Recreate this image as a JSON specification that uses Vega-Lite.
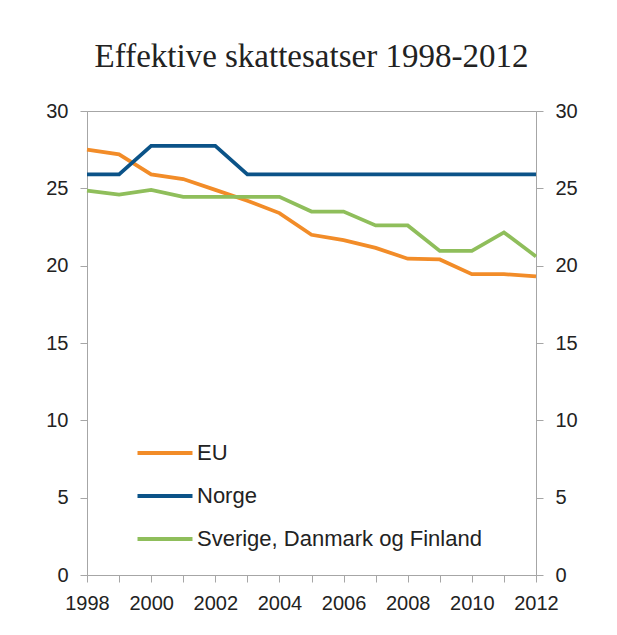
{
  "$schema": "https://vega.github.io/schema/vega-lite/v6.json",
  "width": 449,
  "height": 464,
  "autosize": {"type": "none"},
  "padding": {"left": 87, "top": 111, "right": 81, "bottom": 60},
  "background": "white",
  "title": {
    "text": "Effektive skattesatser 1998-2012",
    "font": "Liberation Serif",
    "fontSize": 33,
    "fontWeight": "normal",
    "color": "#222222",
    "anchor": "middle",
    "offset": 27
  },
  "config": {
    "view": {"stroke": "#A6A6A6", "strokeWidth": 1},
    "axis": {
      "labelFont": "Liberation Sans",
      "labelFontSize": 20,
      "labelColor": "#222222",
      "domainColor": "#A6A6A6",
      "tickColor": "#A6A6A6",
      "tickSize": 7,
      "grid": false,
      "title": null
    },
    "legend": {
      "labelFont": "Liberation Sans",
      "labelFontSize": 22,
      "labelColor": "#222222",
      "labelLimit": 0
    }
  },
  "data": {
    "values": [
      {"year": 1998, "series": "EU", "value": 27.5},
      {"year": 1999, "series": "EU", "value": 27.2},
      {"year": 2000, "series": "EU", "value": 25.9},
      {"year": 2001, "series": "EU", "value": 25.6},
      {"year": 2002, "series": "EU", "value": 24.9},
      {"year": 2003, "series": "EU", "value": 24.2},
      {"year": 2004, "series": "EU", "value": 23.4},
      {"year": 2005, "series": "EU", "value": 22.0},
      {"year": 2006, "series": "EU", "value": 21.65},
      {"year": 2007, "series": "EU", "value": 21.15},
      {"year": 2008, "series": "EU", "value": 20.45},
      {"year": 2009, "series": "EU", "value": 20.4},
      {"year": 2010, "series": "EU", "value": 19.45},
      {"year": 2011, "series": "EU", "value": 19.45},
      {"year": 2012, "series": "EU", "value": 19.3},
      {"year": 1998, "series": "Norge", "value": 25.9},
      {"year": 1999, "series": "Norge", "value": 25.9},
      {"year": 2000, "series": "Norge", "value": 27.75},
      {"year": 2001, "series": "Norge", "value": 27.75},
      {"year": 2002, "series": "Norge", "value": 27.75},
      {"year": 2003, "series": "Norge", "value": 25.9},
      {"year": 2004, "series": "Norge", "value": 25.9},
      {"year": 2005, "series": "Norge", "value": 25.9},
      {"year": 2006, "series": "Norge", "value": 25.9},
      {"year": 2007, "series": "Norge", "value": 25.9},
      {"year": 2008, "series": "Norge", "value": 25.9},
      {"year": 2009, "series": "Norge", "value": 25.9},
      {"year": 2010, "series": "Norge", "value": 25.9},
      {"year": 2011, "series": "Norge", "value": 25.9},
      {"year": 2012, "series": "Norge", "value": 25.9},
      {"year": 1998, "series": "Sverige, Danmark og Finland", "value": 24.85},
      {"year": 1999, "series": "Sverige, Danmark og Finland", "value": 24.6},
      {"year": 2000, "series": "Sverige, Danmark og Finland", "value": 24.9},
      {"year": 2001, "series": "Sverige, Danmark og Finland", "value": 24.45},
      {"year": 2002, "series": "Sverige, Danmark og Finland", "value": 24.45},
      {"year": 2003, "series": "Sverige, Danmark og Finland", "value": 24.45},
      {"year": 2004, "series": "Sverige, Danmark og Finland", "value": 24.45},
      {"year": 2005, "series": "Sverige, Danmark og Finland", "value": 23.5},
      {"year": 2006, "series": "Sverige, Danmark og Finland", "value": 23.5},
      {"year": 2007, "series": "Sverige, Danmark og Finland", "value": 22.6},
      {"year": 2008, "series": "Sverige, Danmark og Finland", "value": 22.6},
      {"year": 2009, "series": "Sverige, Danmark og Finland", "value": 20.95},
      {"year": 2010, "series": "Sverige, Danmark og Finland", "value": 20.95},
      {"year": 2011, "series": "Sverige, Danmark og Finland", "value": 22.15},
      {"year": 2012, "series": "Sverige, Danmark og Finland", "value": 20.6}
    ]
  },
  "encoding": {
    "x": {
      "field": "year",
      "type": "quantitative",
      "scale": {"domain": [1998, 2012], "nice": false, "zero": false},
      "axis": {
        "values": [1998, 1999, 2000, 2001, 2002, 2003, 2004, 2005, 2006, 2007, 2008, 2009, 2010, 2011, 2012],
        "format": "d",
        "labelExpr": "datum.value % 2 == 0 ? datum.label : ''",
        "labelPadding": 11,
        "labelFlush": false,
        "labelOverlap": false
      }
    }
  },
  "layer": [
    {
      "mark": {"type": "line", "strokeWidth": 3.75, "strokeJoin": "miter"},
      "encoding": {
        "y": {
          "field": "value",
          "type": "quantitative",
          "scale": {"domain": [0, 30], "nice": false},
          "axis": {"orient": "left", "values": [0, 5, 10, 15, 20, 25, 30], "labelPadding": 12}
        },
        "color": {
          "field": "series",
          "type": "nominal",
          "scale": {
            "domain": ["EU", "Norge", "Sverige, Danmark og Finland"],
            "range": ["#F28C28", "#0B5388", "#8FBE5B"]
          },
          "legend": {
            "title": null,
            "orient": "none",
            "legendX": 62,
            "legendY": 326,
            "padding": 0,
            "symbolType": "M-2,0H2",
            "symbolSize": 756,
            "symbolStrokeWidth": 4,
            "rowPadding": 16,
            "labelOffset": 16,
            "labelLimit": 0
          }
        }
      }
    },
    {
      "mark": {"type": "line", "strokeOpacity": 0},
      "encoding": {
        "y": {
          "field": "value",
          "type": "quantitative",
          "scale": {"domain": [0, 30], "nice": false},
          "axis": {"orient": "right", "values": [0, 5, 10, 15, 20, 25, 30], "labelPadding": 12}
        },
        "detail": {"field": "series"}
      }
    }
  ],
  "resolve": {"axis": {"y": "independent"}}
}
